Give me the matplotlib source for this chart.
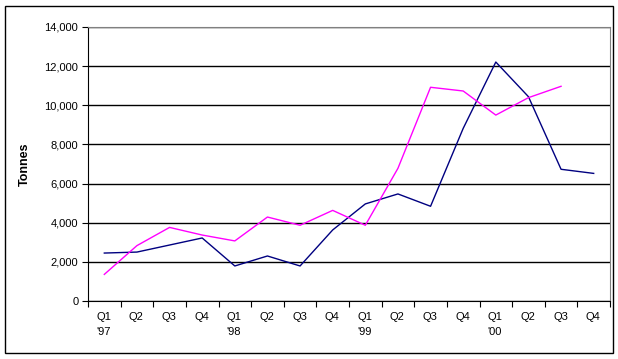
import matplotlib
matplotlib.use("Agg")
import matplotlib.pyplot as plt
from matplotlib.patches import Rectangle
from matplotlib.transforms import ScaledTranslation
import numpy as np

quarters = ["Q1", "Q2", "Q3", "Q4"] * 4
years = ["'97", "", "", "", "'98", "", "", "", "'99", "", "", "", "'00", "", "", ""]
tick_labels = [q + "\n" + y for q, y in zip(quarters, years)]

series_navy = [2450, 2500, 2860, 3220, 1790, 2300, 1790, 3630,
               4960, 5470, 4840, 8820, 12210, 10440, 6730, 6520]
series_magenta = [1360, 2830, 3760, 3370, 3070, 4290, 3870, 4630,
                  3870, 6780, 10920, 10730, 9500, 10390, 10970, np.nan]

plt.rcParams['font.family'] = ['Liberation Sans', 'DejaVu Sans']

fig = plt.figure(figsize=(6.18, 3.59), dpi=100)
ax = fig.add_axes([88 / 618, 1 - 301 / 359, 522 / 618, 274 / 359])

x = np.arange(len(tick_labels)) + 0.5
ax.plot(x, series_navy, color="#000080", lw=1.0)
ax.plot(x, series_magenta, color="#FF00FF", lw=1.0)

ax.set_xlim(0, len(tick_labels))
ax.set_ylim(0, 14000)
ax.set_yticks(np.arange(0, 14001, 2000))
ax.set_yticklabels([f"{v:,}" for v in range(0, 14001, 2000)], fontsize=8)
ax.yaxis.grid(True, color="black", lw=1.0)
ax.set_axisbelow(True)

# category boundaries get the tick marks, labels sit in the middle
ax.set_xticks(np.arange(0, len(tick_labels) + 1))
ax.set_xticklabels([])
ax.set_xticks(x, minor=True)
ax.set_xticklabels(tick_labels, minor=True, fontsize=8, linespacing=1.6,
                   ha="left")
ax.tick_params(axis="x", which="minor", length=0, pad=8)
ax.tick_params(axis="x", which="major", length=4, direction="out", color="black")
ax.tick_params(axis="y", length=4, direction="out", color="black", pad=3)

offset = ScaledTranslation(-8 / 100, 0, fig.dpi_scale_trans)
for lab in ax.xaxis.get_minorticklabels():
    lab.set_transform(lab.get_transform() + offset)

ax.spines["left"].set_color("black")
ax.spines["bottom"].set_color("black")
ax.spines["top"].set_color("#808080")
ax.spines["right"].set_color("#808080")

ax.set_ylabel("Tonnes", fontsize=9, fontweight="bold", labelpad=10)

fig.patches.append(Rectangle((5 / 618, 1 - 353 / 359), 608 / 618, 347 / 359,
                             transform=fig.transFigure, fill=False,
                             edgecolor="black", lw=1.0))

fig.savefig("out.png", dpi=100)
